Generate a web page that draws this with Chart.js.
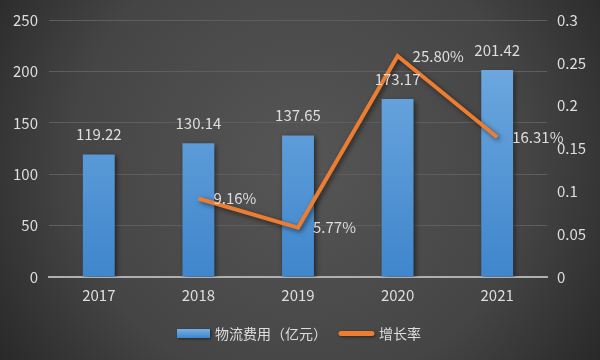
<!DOCTYPE html>
<html><head><meta charset="utf-8">
<script src="https://cdn.jsdelivr.net/npm/chart.js@4/dist/chart.umd.min.js"></script>
<style>html,body{margin:0;padding:0;background:#444}#wrap{width:600px;height:360px;position:relative}</style>
</head><body><div id="wrap"><canvas id="c" width="600" height="360"></canvas></div>
<script>
const years = ['2017','2018','2019','2020','2021'];
const cost = [119.22, 130.14, 137.65, 173.17, 201.42];
const growth = [null, 0.0916, 0.0577, 0.2580, 0.1631];
const costName = '物流费用（亿元）';
const growthName = '增长率';
const leftTicks = [0, 50, 100, 150, 200, 250];
const rightTicks = [0, 0.05, 0.1, 0.15, 0.2, 0.25, 0.3];

const FONT = '"Noto Sans CJK SC", "Noto Sans", sans-serif';
const TXT = '#dedede';
const ORANGE = '#ed7d31';

function barGradient(ctx, top, bottom) {
  const g = ctx.createLinearGradient(0, top, 0, bottom);
  g.addColorStop(0, '#76aee3');
  g.addColorStop(1, '#3f86cc');
  return g;
}

const bgPlugin = {
  id: 'bg',
  beforeDraw(chart) {
    const {ctx, width, height} = chart;
    const g = ctx.createRadialGradient(width*0.5, height*0.45, 10, width*0.5, height*0.45, width*0.62);
    g.addColorStop(0, '#555555');
    g.addColorStop(0.6, '#454545');
    g.addColorStop(1, '#262626');
    ctx.save();
    ctx.fillStyle = g;
    ctx.fillRect(0, 0, width, height);
    ctx.restore();
  }
};

const shadowPlugin = {
  id: 'shadow',
  beforeDatasetDraw(chart) {
    const ctx = chart.ctx;
    ctx.save();
    ctx.shadowColor = 'rgba(0,0,0,0.55)';
    ctx.shadowBlur = 5;
    ctx.shadowOffsetX = 2;
    ctx.shadowOffsetY = 2;
  },
  afterDatasetDraw(chart) { chart.ctx.restore(); }
};

const labelPlugin = {
  id: 'labels',
  afterDatasetsDraw(chart) {
    const ctx = chart.ctx;
    ctx.save();
    ctx.font = '15px ' + FONT;
    ctx.fillStyle = TXT;
    ctx.textBaseline = 'middle';
    const m0 = chart.getDatasetMeta(0);
    ctx.textAlign = 'center';
    m0.data.forEach((el, i) => {
      ctx.fillText(cost[i].toFixed(2), el.x, el.y - 20);
    });
    const m1 = chart.getDatasetMeta(1);
    ctx.textAlign = 'left';
    m1.data.forEach((el, i) => {
      if (growth[i] == null) return;
      ctx.fillText((growth[i]*100).toFixed(2) + '%', el.x + 15, el.y);
    });
    ctx.restore();
  }
};

const legendPlugin = {
  id: 'customLegend',
  afterDraw(chart) {
    const ctx = chart.ctx;
    ctx.save();
    ctx.font = '14px ' + FONT;
    const y = 333.5;
    const boxX = 177, boxW = 33, text1X = 215, lineX = 338, lineW = 37, text2X = 379;
    ctx.shadowColor = 'rgba(0,0,0,0.5)';
    ctx.shadowBlur = 3; ctx.shadowOffsetX = 1; ctx.shadowOffsetY = 1;
    ctx.fillStyle = barGradient(ctx, y - 4.5, y + 4.5);
    ctx.fillRect(boxX, y - 4.5, boxW, 9);
    ctx.shadowColor = 'transparent';
    ctx.fillStyle = TXT;
    ctx.textBaseline = 'middle';
    ctx.textAlign = 'left';
    ctx.fillText(costName, text1X, y);
    ctx.shadowColor = 'rgba(0,0,0,0.5)';
    ctx.strokeStyle = ORANGE;
    ctx.lineWidth = 5;
    ctx.lineCap = 'round';
    ctx.beginPath();
    ctx.moveTo(lineX + 3, y); ctx.lineTo(lineX + lineW - 3, y);
    ctx.stroke();
    ctx.shadowColor = 'transparent';
    ctx.fillText(growthName, text2X, y);
    ctx.restore();
  }
};

const ctx = document.getElementById('c').getContext('2d');
new Chart(ctx, {
  data: {
    labels: years,
    datasets: [
      {
        type: 'bar', label: costName, data: cost, yAxisID: 'y', order: 2,
        backgroundColor(c) {
          const a = c.chart.chartArea;
          if (!a) return '#5b9bd5';
          return barGradient(c.chart.ctx, a.top, a.bottom);
        },
        barPercentage: 0.32, categoryPercentage: 1.0
      },
      {
        type: 'line', label: growthName, data: growth, yAxisID: 'y1', order: 1,
        borderColor: ORANGE, backgroundColor: ORANGE, borderWidth: 4,
        pointRadius: 0, tension: 0, spanGaps: false
      }
    ]
  },
  options: {
    responsive: false, animation: false,
    layout: { padding: { top: 18, left: 0, right: 0, bottom: 0 } },
    plugins: { legend: { display: false }, tooltip: { enabled: false } },
    scales: {
      x: {
        afterFit(s) { s.height = 83; },
        grid: { display: false, drawTicks: false },
        border: { color: '#b0b0b0', width: 2 },
        ticks: { color: TXT, font: { size: 15, family: FONT }, padding: 9 }
      },
      y: {
        position: 'left', min: 0, max: 250,
        afterBuildTicks(s) { s.ticks = leftTicks.map(v => ({ value: v })); },
        afterFit(s) { s.width = 49; },
        grid: { color: '#5e5e5e', lineWidth: 1, drawTicks: false },
        border: { display: false },
        ticks: { color: TXT, font: { size: 15, family: FONT }, padding: 11 }
      },
      y1: {
        position: 'right', min: 0, max: 0.3,
        afterBuildTicks(s) { s.ticks = rightTicks.map(v => ({ value: v })); },
        afterFit(s) { s.width = 53; },
        grid: { display: false, drawTicks: false },
        border: { display: false },
        ticks: { color: TXT, font: { size: 15, family: FONT }, padding: 10,
          callback: v => String(Math.round(v*100)/100) }
      }
    }
  },
  plugins: [bgPlugin, shadowPlugin, labelPlugin, legendPlugin]
});
</script></body></html>
